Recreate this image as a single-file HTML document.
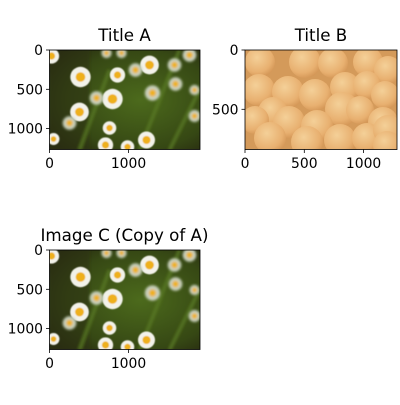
<!DOCTYPE html>
<html><head><meta charset="utf-8"><style>
body{margin:0;background:#fff;}
svg text{font-family:"DejaVu Sans","Liberation Sans",sans-serif;fill:#000;}
</style></head><body>
<svg width="400" height="400" viewBox="0 0 400 400" xmlns="http://www.w3.org/2000/svg">
<defs>
<filter id="bl" x="-20%" y="-20%" width="140%" height="140%"><feGaussianBlur stdDeviation="1.3"/></filter>
<filter id="bl2" x="-20%" y="-20%" width="140%" height="140%"><feGaussianBlur stdDeviation="0.5"/></filter>
<radialGradient id="bgg" cx="0.6" cy="0.5" r="0.7"><stop offset="0" stop-color="#4c6a1c"/><stop offset="0.7" stop-color="#364814"/><stop offset="1" stop-color="#262810"/></radialGradient>
<radialGradient id="ck" cx="0.4" cy="0.35" r="0.7"><stop offset="0" stop-color="#f4d098"/><stop offset="0.7" stop-color="#e8b070"/><stop offset="1" stop-color="#d29454"/></radialGradient>
<clipPath id="clipA"><rect x="0" y="0" width="150.5" height="99.5"/></clipPath>
<clipPath id="clipB"><rect x="0" y="0" width="152" height="99.5"/></clipPath>
<g id="daisy" clip-path="url(#clipA)">
<rect x="0" y="0" width="151" height="100" fill="url(#bgg)"/>
<g filter="url(#bl)">
<rect x="0" y="0" width="40" height="100" fill="#2f3212" opacity="0.6"/>
<path d="M30 100 L60 20 M90 100 L130 0 M120 100 L150 40" stroke="#5a7a22" stroke-width="4" fill="none" opacity="0.7"/>
</g>
<g id="flowers"></g>
</g>
<g id="cookies" clip-path="url(#clipB)">
<rect x="0" y="0" width="152" height="100" fill="#d49a5a"/>
<g id="cookieMarks"></g>
</g>
</defs>

<g transform="translate(49.5,50)">
<use href="#daisy"/>
<rect x="0" y="0" width="150.5" height="99.5" fill="none" stroke="#000" stroke-width="0.8"/>
</g>
<text x="124.5" y="41" font-size="16.7" text-anchor="middle">Title A</text>
<g stroke="#000" stroke-width="0.8">
<line x1="49.5" y1="149.5" x2="49.5" y2="153"/><line x1="128.5" y1="149.5" x2="128.5" y2="153"/>
<line x1="49.5" y1="50" x2="46" y2="50"/><line x1="49.5" y1="89.3" x2="46" y2="89.3"/><line x1="49.5" y1="128.6" x2="46" y2="128.6"/>
</g>
<g font-size="13.9">
<text x="49.5" y="168" text-anchor="middle">0</text><text x="128.5" y="168" text-anchor="middle">1000</text>
<text x="43" y="55" text-anchor="end">0</text><text x="43" y="94.3" text-anchor="end">500</text><text x="43" y="133.6" text-anchor="end">1000</text>
</g>

<g transform="translate(245,50)">
<use href="#cookies"/>
<rect x="0" y="0" width="152" height="99.5" fill="none" stroke="#000" stroke-width="0.8"/>
</g>
<text x="321" y="41" font-size="16.7" text-anchor="middle">Title B</text>
<g stroke="#000" stroke-width="0.8">
<line x1="245" y1="149.5" x2="245" y2="153"/><line x1="304.3" y1="149.5" x2="304.3" y2="153"/><line x1="363.6" y1="149.5" x2="363.6" y2="153"/>
<line x1="245" y1="50" x2="241.5" y2="50"/><line x1="245" y1="109.3" x2="241.5" y2="109.3"/>
</g>
<g font-size="13.9">
<text x="245" y="168" text-anchor="middle">0</text><text x="304.3" y="168" text-anchor="middle">500</text><text x="363.6" y="168" text-anchor="middle">1000</text>
<text x="238.5" y="55" text-anchor="end">0</text><text x="238.5" y="114.3" text-anchor="end">500</text>
</g>

<g transform="translate(49.5,250)">
<use href="#daisy"/>
<rect x="0" y="0" width="150.5" height="99.5" fill="none" stroke="#000" stroke-width="0.8"/>
</g>
<text x="124.5" y="241" font-size="16.7" text-anchor="middle">Image C (Copy of A)</text>
<g stroke="#000" stroke-width="0.8">
<line x1="49.5" y1="349.5" x2="49.5" y2="353"/><line x1="128.5" y1="349.5" x2="128.5" y2="353"/>
<line x1="49.5" y1="250" x2="46" y2="250"/><line x1="49.5" y1="289.3" x2="46" y2="289.3"/><line x1="49.5" y1="328.6" x2="46" y2="328.6"/>
</g>
<g font-size="13.9">
<text x="49.5" y="368" text-anchor="middle">0</text><text x="128.5" y="368" text-anchor="middle">1000</text>
<text x="43" y="255" text-anchor="end">0</text><text x="43" y="294.3" text-anchor="end">500</text><text x="43" y="333.6" text-anchor="end">1000</text>
</g>
</svg>
<script>
const flowerX=[31,63,68,100,86,30,56,60,97,103,126,125,20,4,2,145,47,78,145,72,57,140];
const flowerY=[27,49,25,15,20,62,95,78,90,43,34,15,73,89,6,66,48,97,40,3,3,5];
const flowerR=[12,12,9,11,8,11,9,8,10,9,8,8,8,7,9,7,8,8,6,6,6,8];
const flowerSharp=[1,1,1,1,0,1,1,1,1,0,0,0,0,1,1,0,0,1,0,0,0,0];
const cookieX=[15,60,88,123,143,14,43,70,100,122,140,28,44,97,72,115,138,10,25,62,95,122,143,142];
const cookieY=[12,12,13,12,20,40,42,45,37,35,45,62,72,59,76,60,72,70,88,92,90,88,80,95];
const cookieR=[13,14,13,13,12,14,14,14,13,12,12,13,14,15,14,12,13,12,14,14,14,13,13,12];
const NS='http://www.w3.org/2000/svg';
const fg=document.getElementById('flowers');
for(let i=0;i<flowerX.length;i++){
  const g=document.createElementNS(NS,'g');
  
  
  g.setAttribute('filter',flowerSharp[i]?'url(#bl2)':'url(#bl)');
  const p=document.createElementNS(NS,'circle');
  p.setAttribute('cx',flowerX[i]);p.setAttribute('cy',flowerY[i]);p.setAttribute('r',flowerR[i]*0.85);
  p.setAttribute('fill',flowerSharp[i]?'#f2f2ea':'#c8d0bc');
  g.appendChild(p);
  const c=document.createElementNS(NS,'circle');
  c.setAttribute('cx',flowerX[i]);c.setAttribute('cy',flowerY[i]);c.setAttribute('r',flowerR[i]*0.4);
  c.setAttribute('fill','#eeb01a');
  g.appendChild(c);
  fg.appendChild(g);
}
const cg=document.getElementById('cookieMarks');
for(let i=0;i<cookieX.length;i++){
  const c=document.createElementNS(NS,'circle');
  
  
  c.setAttribute('cx',cookieX[i]);c.setAttribute('cy',cookieY[i]);c.setAttribute('r',cookieR[i]+2);
  c.setAttribute('fill','url(#ck)');
  cg.appendChild(c);
}
</script>
</body></html>
